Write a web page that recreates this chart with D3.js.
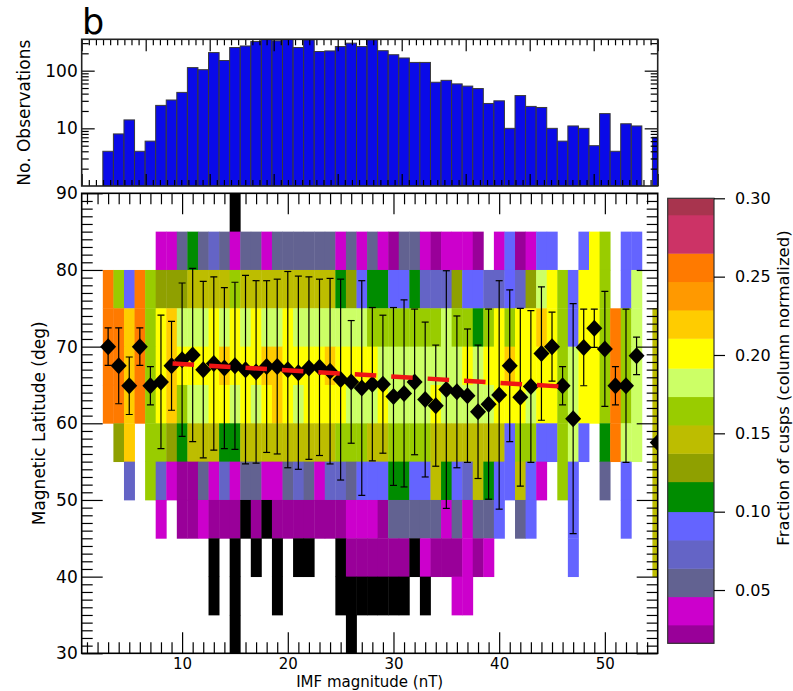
<!DOCTYPE html>
<html><head><meta charset="utf-8">
<script src="https://cdn.jsdelivr.net/npm/d3@7"></script>
<style>
body{margin:0;background:#fff}
svg{display:block;font-family:"DejaVu Sans",sans-serif}
</style></head><body>
<svg id="c" width="793" height="691"></svg>
<script>
// ---------------- data ----------------
const imfBins = d3.range(1, 56);
const histCounts = [0,0,4,8,14,4,6,25,31,42,113,104,206,150,252,268,320,380,329,370,252,342,215,220,262,300,262,342,222,189,166,139,139,63,68,59,54,49,27,30,10,37,24,23,10,6,11,10,5,18,4,12,11,0,7];
const latBands = [85,80,75,70,65,60,55,50,45,40,35,30];
// one char per IMF bin (1..55): '.' none, 'k' below scale, 0-f colour level
const cellCodes = [
  "..............k........................................",
  ".......11252321"+"2212222221"+"2121022101"+"110.140144"+"..4a8.44..",
  "..d84d8666"+"7777877777"+"7777564554"+"4533364433"+"4369a84aa8"+".49..",
  "..ddbd8ab9"+"99a9a9a99a"+"9999999888"+"888898858a"+"8aaba84aa8"+"d89.7",
  "..ddbd8aba"+"aaabaaabba"+"aaabaaaa99"+"999999a9aa"+"baaaa89aa8"+"d89.7",
  "..ddbd8ab8"+"99aa9a9aba"+"9aaaa999a9"+"999a99999a"+"aa9aa89aa8"+"d89.7",
  "...6b.8865"+"7775577777"+"7777888778"+"8887777777"+"48844894.5"+"d99.7",
  "....3.8310"+"0213122112"+"3213324445"+"5447543754"+"4741.84..2"+".4..7",
  ".......1.0"+"01000k0k00"+"0000011102"+"2222121224"+".24...4..."+".4..7",
  ".........."+"..k.k.k.k."+"kk..k00000"+"0k1000101."+"......4..."+"....7",
  ".........."+"..k.k...k."+"....kkkkkk"+"k.k..11..."+".........."+".....",
  ".........."+"....k....."+".....k...."+".........."+".........."+"....."
];
const levelBounds = [0.016,0.0277,0.0457,0.0638,0.0819,0.100,0.1191,0.1372,0.1553,0.1734,0.1915,0.2106,0.2287,0.2468,0.2649,0.2894,0.30];
const levelColors = ["#990099","#cc00cc","#626291","#6464c6","#6464ff","#008c00","#8fa000","#bdbd00","#99cc00","#ccff66","#ffff00","#ffcc00","#ff9900","#ff7a00","#cc3366","#a8344e"];
const meanIMF = [3,4,5,6,7,8,9,10,11,12,13,14,15,16,17,18,19,20,21,22,23,24,25,26,27,28,29,30,31,32,33,34,35,36,37,38,39,40,41,42,43,44,45,46,47,48,49,50,51,52,53,55];
const meanLat = [70.0,67.5,64.9,70.0,64.9,65.4,67.5,68.3,68.9,67.0,67.8,67.2,67.5,67.0,66.7,67.4,67.4,67.0,66.6,67.2,67.3,66.8,65.7,65.4,64.6,65.1,65.1,63.5,63.9,65.4,63.1,62.3,64.4,64.1,63.6,61.5,62.5,63.7,67.5,63.4,64.8,69.1,70.0,64.9,60.6,69.9,72.4,69.7,64.9,64.9,68.8,57.5];
const latErr = [2.45,4.95,3.75,2.45,2.5,8.7,5.8,10.0,11.3,11.5,11.3,10.5,10.9,12.3,11.9,11.2,11.4,12.8,12.6,11.9,11.5,12.1,13.1,8.0,14.0,10.0,9.0,11.6,12.2,9.5,10.1,7.9,15.5,9.9,8.7,8.7,12.4,14.9,9.9,11.6,9.9,8.7,4.5,2.5,15.0,5.0,2.5,7.5,2.5,10.0,2.45,0];
const fitIMF = [9.1, 45.8];
const fitLat = [67.8, 64.8];
const latTicks = [30,40,50,60,70,80,90];
const imfTicks = [10,20,30,40,50];
const histTicks = [10,100];
const cbarTicks = [0.05,0.10,0.15,0.20,0.25,0.30];

// ---------------- layout ----------------
const L = 81.7, R = 657.7, MT = 193.3, MB = 653.3, HT = 39.3, HB = 186;
const CBL = 667.7, CBR = 714, CBT = 198.3, CBB = 643.3;

const svg = d3.select("#c");
const x = d3.scaleLinear().domain([0.5, 55]).range([L, R]);
const y = d3.scaleLinear().domain([30, 90]).range([MB, MT]);
const yh = d3.scaleLog().domain([1, 350]).range([HB, HT]);
const ycb = d3.scaleLinear().domain([0.016, 0.30]).range([CBB, CBT]);
const codeIndex = "0123456789abcdef";
const codeValue = c => c === "k" ? 0.005 : (levelBounds[codeIndex.indexOf(c)] + levelBounds[codeIndex.indexOf(c)+1]) / 2;
const color = d3.scaleThreshold().domain(levelBounds.slice(0, 16)).range(["#000000", ...levelColors]);

const defs = svg.append("defs");
defs.append("clipPath").attr("id","cm").append("rect").attr("x",L).attr("y",MT).attr("width",R-L).attr("height",MB-MT);
defs.append("clipPath").attr("id","ch").append("rect").attr("x",L).attr("y",HT).attr("width",R-L).attr("height",HB-HT);

// ---------------- histogram ----------------
const hg = svg.append("g").attr("clip-path","url(#ch)");
hg.selectAll("rect").data(imfBins.map((b,i)=>({b, n: histCounts[i]})).filter(d=>d.n>0))
  .join("rect")
  .attr("x", d=>x(d.b-0.5)).attr("width", d=>x(d.b+0.5)-x(d.b-0.5))
  .attr("y", d=>yh(d.n)).attr("height", d=>HB-yh(d.n))
  .attr("fill","#0a0ae8").attr("stroke","#3a3a3a").attr("stroke-width",1);

// ---------------- heatmap ----------------
const cells = [];
latBands.forEach((lat, r) => {
  for (let i = 0; i < 55; i++) {
    const c = cellCodes[r][i];
    if (c !== ".") cells.push({imf: imfBins[i], lat, v: codeValue(c)});
  }
});
const mg = svg.append("g").attr("clip-path","url(#cm)");
mg.selectAll("rect").data(cells).join("rect")
  .attr("x", d=>x(d.imf-0.5)).attr("width", d=>x(d.imf+0.5)-x(d.imf-0.5)+0.4)
  .attr("y", d=>y(d.lat+5)).attr("height", d=>y(d.lat)-y(d.lat+5)+0.4)
  .attr("fill", d=>color(d.v));

// error bars
const pts = meanIMF.map((m,i)=>({imf:m, lat:meanLat[i], e:latErr[i]}));
const eb = mg.append("g").attr("stroke","#000").attr("stroke-width",1.2);
pts.filter(d=>d.e>0).forEach(d=>{
  const cx = x(d.imf), y1 = y(d.lat+d.e), y2 = y(d.lat-d.e);
  eb.append("line").attr("x1",cx).attr("x2",cx).attr("y1",y1).attr("y2",y2);
  eb.append("line").attr("x1",cx-3.5).attr("x2",cx+3.5).attr("y1",y1).attr("y2",y1);
  eb.append("line").attr("x1",cx-3.5).attr("x2",cx+3.5).attr("y1",y2).attr("y2",y2);
});
// diamonds
mg.selectAll("path.dm").data(pts).join("path").attr("class","dm")
  .attr("d", d=>{const cx=x(d.imf), cy=y(d.lat); return `M${cx},${cy-8.5}L${cx+8},${cy}L${cx},${cy+8.5}L${cx-8},${cy}Z`;})
  .attr("fill","#000");
// fit line
mg.append("path").attr("d", d3.line().x(d=>x(d[0])).y(d=>y(d[1]))(fitIMF.map((v,i)=>[v,fitLat[i]])))
  .attr("stroke","#f01414").attr("stroke-width",4.5).attr("stroke-dasharray","21.5,15").attr("fill","none");

// ---------------- axes ----------------
function styleAxis(size){ return g=>{ g.select(".domain").remove(); g.selectAll("line").attr("stroke","#000").attr("stroke-width",1.2); g.selectAll("text").attr("fill","#000").style("font-size",size+"px").style("font-family","DejaVu Sans"); }; }
const minorX = d3.range(1, 55).filter(v=>v%10!==0);
const minorY = d3.range(30, 91).filter(v=>v%10!==0);
// main
svg.append("g").attr("transform",`translate(0,${MB})`).call(d3.axisBottom(x).tickValues(imfTicks).tickSize(-21).tickPadding(5).tickFormat(d3.format("d"))).call(styleAxis(15));
svg.append("g").attr("transform",`translate(0,${MB})`).call(d3.axisBottom(x).tickValues(minorX).tickSize(-11).tickFormat("")).call(styleAxis(15));
svg.append("g").attr("transform",`translate(0,${MT})`).call(d3.axisTop(x).tickValues(imfTicks).tickSize(-21).tickFormat("")).call(styleAxis(15));
svg.append("g").attr("transform",`translate(0,${MT})`).call(d3.axisTop(x).tickValues(minorX).tickSize(-11).tickFormat("")).call(styleAxis(15));
svg.append("g").attr("transform",`translate(${L},0)`).call(d3.axisLeft(y).tickValues(latTicks).tickSize(-21).tickPadding(4).tickFormat(d3.format("d"))).call(styleAxis(17));
svg.append("g").attr("transform",`translate(${L},0)`).call(d3.axisLeft(y).tickValues(minorY).tickSize(-11).tickFormat("")).call(styleAxis(17));
svg.append("g").attr("transform",`translate(${R},0)`).call(d3.axisRight(y).tickValues(latTicks).tickSize(-21).tickFormat("")).call(styleAxis(17));
svg.append("g").attr("transform",`translate(${R},0)`).call(d3.axisRight(y).tickValues(minorY).tickSize(-11).tickFormat("")).call(styleAxis(17));
svg.append("rect").attr("x",L).attr("y",MT).attr("width",R-L).attr("height",MB-MT).attr("fill","none").attr("stroke","#000").attr("stroke-width",1.6);

// histogram axes
const hMaj = d3.range(10).map(k=>0.5+k*54.5/9);
const hMin = []; for (let k=0;k<9;k++) for (let j=1;j<9;j++) hMin.push(hMaj[k]+j*(54.5/9)/9);
const hMinY = [2,3,4,5,6,7,8,9,20,30,40,50,60,70,80,90,200,300];
svg.append("g").attr("transform",`translate(0,${HB})`).call(d3.axisBottom(x).tickValues(hMaj).tickSize(-12).tickFormat("")).call(styleAxis(17));
svg.append("g").attr("transform",`translate(0,${HB})`).call(d3.axisBottom(x).tickValues(hMin).tickSize(-6).tickFormat("")).call(styleAxis(17));
svg.append("g").attr("transform",`translate(0,${HT})`).call(d3.axisTop(x).tickValues(hMaj).tickSize(-12).tickFormat("")).call(styleAxis(17));
svg.append("g").attr("transform",`translate(0,${HT})`).call(d3.axisTop(x).tickValues(hMin).tickSize(-6).tickFormat("")).call(styleAxis(17));
svg.append("g").attr("transform",`translate(${L},0)`).call(d3.axisLeft(yh).tickValues(histTicks).tickSize(-13).tickPadding(4).tickFormat(d3.format("d"))).call(styleAxis(17));
svg.append("g").attr("transform",`translate(${L},0)`).call(d3.axisLeft(yh).tickValues(hMinY).tickSize(-7).tickFormat("")).call(styleAxis(17));
svg.append("g").attr("transform",`translate(${R},0)`).call(d3.axisRight(yh).tickValues(histTicks).tickSize(-13).tickFormat("")).call(styleAxis(17));
svg.append("g").attr("transform",`translate(${R},0)`).call(d3.axisRight(yh).tickValues(hMinY).tickSize(-7).tickFormat("")).call(styleAxis(17));
svg.append("rect").attr("x",L).attr("y",HT).attr("width",R-L).attr("height",HB-HT).attr("fill","none").attr("stroke","#222").attr("stroke-width",1.6);

// ---------------- colour bar ----------------
svg.append("g").selectAll("rect").data(levelColors).join("rect")
  .attr("x",CBL).attr("width",CBR-CBL)
  .attr("y",(c,i)=>ycb(levelBounds[i+1])).attr("height",(c,i)=>ycb(levelBounds[i])-ycb(levelBounds[i+1])+0.4)
  .attr("fill",c=>c);
svg.append("rect").attr("x",CBL).attr("y",CBT).attr("width",CBR-CBL).attr("height",CBB-CBT).attr("fill","none").attr("stroke","#333").attr("stroke-width",1.2);
svg.append("g").attr("transform",`translate(${CBR},0)`).call(d3.axisRight(ycb).tickValues(cbarTicks).tickSize(11).tickPadding(10).tickFormat(d3.format(".2f"))).call(styleAxis(16));

// ---------------- titles ----------------
svg.append("text").attr("x",82).attr("y",34).style("font-size","35px").text("b");
svg.append("text").attr("transform",`translate(30,${(HT+HB)/2}) rotate(-90)`).attr("text-anchor","middle").style("font-size","17px").text("No. Observations");
svg.append("text").attr("transform",`translate(45,${(MT+MB)/2}) rotate(-90)`).attr("text-anchor","middle").style("font-size","17px").text("Magnetic Latitude (deg)");
svg.append("text").attr("x",(L+R)/2).attr("y",687).attr("text-anchor","middle").style("font-size","15px").text("IMF magnitude (nT)");
svg.append("text").attr("transform",`translate(789,388) rotate(-90)`).attr("text-anchor","middle").style("font-size","16.5px").text("Fraction of cusps (column normalized)");
</script></body></html>
